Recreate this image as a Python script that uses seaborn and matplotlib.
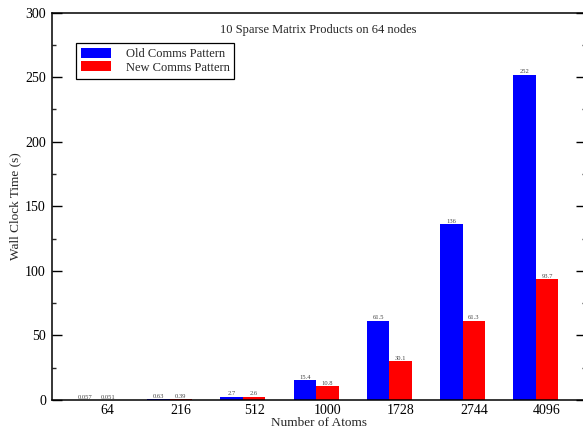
import matplotlib
matplotlib.use("Agg")
import matplotlib.pyplot as plt
from matplotlib.ticker import MultipleLocator
import seaborn as sns
import pandas as pd

atoms = ["64", "216", "512", "1000", "1728", "2744", "4096"]
old_comms = [0.057, 0.63, 2.7, 15.4, 61.5, 136, 252]
new_comms = [0.051, 0.39, 2.6, 10.8, 30.1, 61.3, 93.7]
old_labels = ["0.057", "0.63", "2.7", "15.4", "61.5", "136", "252"]
new_labels = ["0.051", "0.39", "2.6", "10.8", "30.1", "61.3", "93.7"]
series = ["Old Comms Pattern", "New Comms Pattern"]

df = pd.DataFrame({
    "atoms": atoms * 2,
    "time": old_comms + new_comms,
    "pattern": [series[0]] * len(atoms) + [series[1]] * len(atoms),
})

sns.set_style("ticks")
plt.rcParams["font.family"] = ["Liberation Serif", "DejaVu Serif"]

fig = plt.figure(figsize=(5.83, 4.30), dpi=100)
ax = fig.add_axes([51.5 / 583, 1 - 400 / 430, (586 - 51.5) / 583, (400 - 12.5) / 430])

sns.barplot(data=df, x="atoms", y="time", hue="pattern", order=atoms,
            hue_order=series, palette=["#0000ff", "#ff0000"], width=0.614,
            saturation=1, linewidth=0, ax=ax)

for cont, labs in zip(ax.containers, [old_labels, new_labels]):
    ax.bar_label(cont, labels=labs, fontsize=4.7, color="#444444", padding=0.3)

ax.set_ylim(0, 300)
ax.set_xlim(-0.614, (586 - 96) / 73.3)
ax.yaxis.set_major_locator(MultipleLocator(50))
ax.yaxis.set_minor_locator(MultipleLocator(25))
ax.set_xticks([i + 0.1535 for i in range(len(atoms))])
ax.set_xticklabels(atoms)
ax.tick_params(axis="x", length=0, labelsize=10, pad=3, colors="black")
ax.tick_params(axis="y", which="major", direction="in", length=7.2, width=1,
               right=True, labelsize=10, colors="black", pad=4)
ax.tick_params(axis="y", which="minor", direction="in", length=3, width=1, right=True)

for sp in ax.spines.values():
    sp.set_visible(True)
    sp.set_linewidth(1.1)
    sp.set_color("black")

ax.set_xlabel("Number of Atoms", fontsize=9.5, labelpad=0)
ax.set_ylabel("Wall Clock Time (s)", fontsize=9.5, labelpad=3)
ax.text(0.5, 0.955, "10 Sparse Matrix Products on 64 nodes", transform=ax.transAxes,
        ha="center", va="center", fontsize=9)

ax.legend(loc="upper left", bbox_to_anchor=(0.045, 0.921), frameon=True,
          fancybox=False, edgecolor="black", framealpha=1, fontsize=9,
          handlelength=2.4, handleheight=0.8, borderaxespad=0, labelspacing=0.1,
          borderpad=0.4, handletextpad=1.2).get_frame().set_linewidth(0.9)

fig.savefig("out.png", dpi=100)
